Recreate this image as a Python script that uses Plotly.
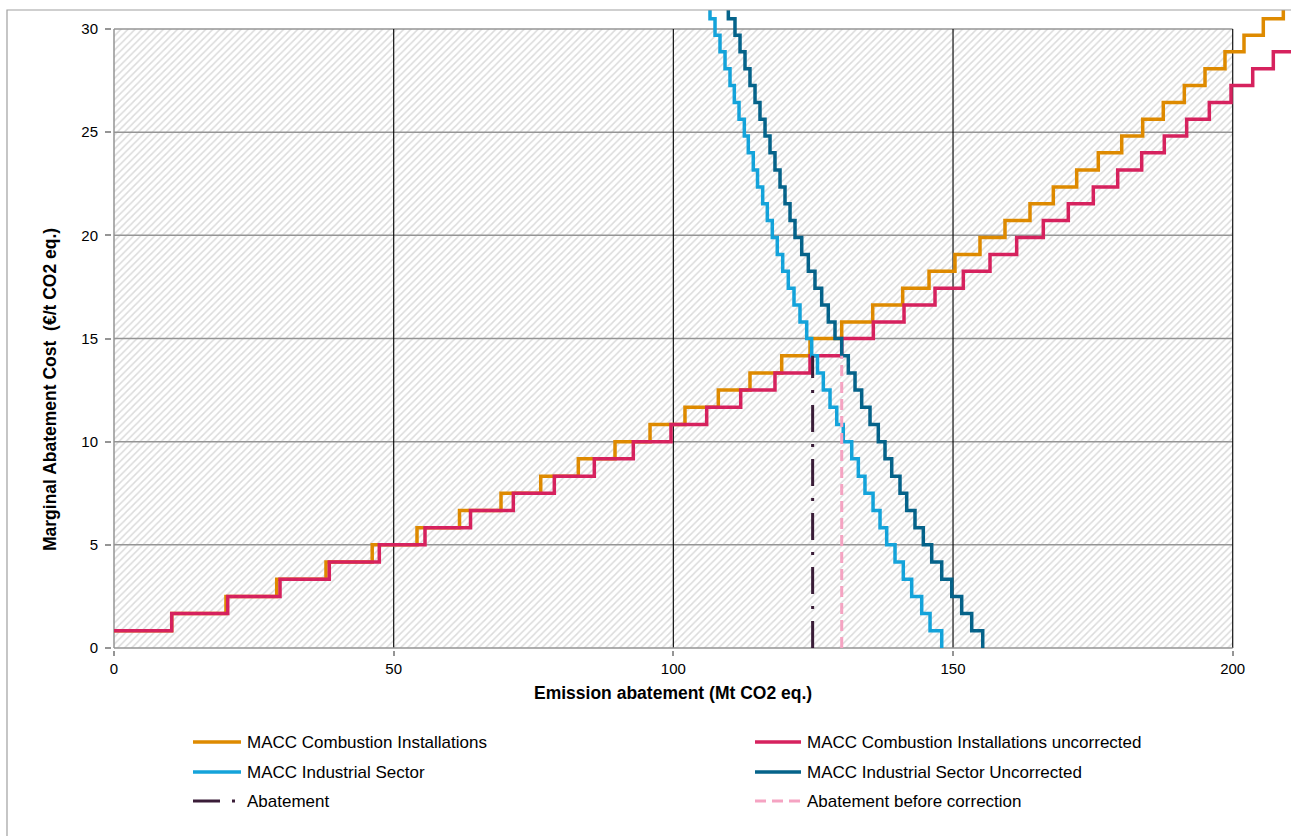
import plotly.graph_objects as go

# ---------------- data ----------------
# shared marginal-cost step levels (EUR/t CO2 eq.), low -> high
cost_levels = [0.83, 1.67, 2.50, 3.33, 4.17, 5.00, 5.83, 6.67, 7.50, 8.33,
               9.17, 10.00, 10.83, 11.67, 12.50, 13.33, 14.17, 15.00, 15.80, 16.62,
               17.44, 18.26, 19.07, 19.90, 20.72, 21.53, 22.34, 23.17, 24.00, 24.82,
               25.63, 26.44, 27.26, 28.08, 28.90, 29.70, 30.50, 31.30]

# MACC Combustion Installations: abatement (Mt) where the curve steps up
comb_x = [0, 10.32, 20.02, 29.09, 37.90, 46.16, 54.17, 61.77, 69.19, 76.29,
          83.01, 89.57, 95.83, 102.08, 108.04, 113.70, 119.37, 124.43, 130.10, 135.64,
          141.00, 145.71, 150.35, 154.82, 159.29, 163.76, 167.93, 172.11, 175.97, 180.16,
          183.91, 187.59, 191.35, 195.05, 198.62, 202.02, 205.47, 209.05, 212.0]
comb_y = cost_levels[:38] + [31.30]

# MACC Combustion Installations uncorrected
comb_unc_x = [0, 10.32, 20.33, 29.68, 38.49, 47.43, 55.60, 63.74, 71.39, 78.72,
              85.87, 92.84, 99.58, 105.96, 112.04, 118.17, 124.43, 130.10, 135.75, 141.24,
              146.78, 151.84, 156.61, 161.38, 166.14, 170.61, 175.08, 179.44, 183.73, 187.77,
              191.77, 195.82, 199.70, 203.58, 207.26, 212.0]
comb_unc_y = cost_levels[:35] + [28.90]

# MACC Industrial Sector (descending): abatement where the curve steps down
ind_x = [105.5, 106.55, 107.45, 108.34, 109.24, 110.13, 110.90, 111.74, 112.69, 113.40,
         114.29, 115.05, 115.97, 116.80, 117.69, 118.58, 119.55, 120.55, 121.57, 122.64,
         123.84, 124.73, 125.77, 126.81, 128.01, 129.21, 130.38, 131.89, 133.07, 134.26,
         135.70, 136.95, 138.14, 139.63, 141.11, 142.61, 144.40, 145.89, 147.98]
ind_y = list(reversed(cost_levels)) + [0]

# MACC Industrial Sector Uncorrected
ind_unc_x = [108.5, 109.83, 111.02, 111.92, 112.81, 113.70, 114.60, 115.49, 116.39, 117.28,
             118.17, 119.07, 119.96, 120.86, 121.75, 122.95, 124.13, 125.32, 126.52, 127.70,
             128.90, 130.10, 131.28, 132.48, 133.67, 135.16, 136.64, 137.84, 139.04, 140.52,
             141.72, 143.20, 144.69, 146.19, 147.98, 149.77, 151.55, 153.34, 155.31]
ind_unc_y = list(reversed(cost_levels)) + [0]

# vertical abatement markers
abatement_x = [124.9, 124.9]
abatement_y = [0, 14.17]
abatement_before_x = [130.1, 130.1]
abatement_before_y = [0, 14.17]

x_ticks = [0, 50, 100, 150, 200]
y_ticks = [0, 5, 10, 15, 20, 25, 30]
x_max, y_max = 200, 30

# ---------------- geometry ----------------
W, H = 1291, 836
L_PX, R_PX, T_PX, B_PX = 112, 1291, 10, 650
X0_PX, X_SCALE = 114, 5.5935
Y0_PX, Y_SCALE = 648, 20.633
x_range = [(L_PX - X0_PX) / X_SCALE, (R_PX - X0_PX) / X_SCALE]
y_range = [(Y0_PX - B_PX) / Y_SCALE, (Y0_PX - T_PX) / Y_SCALE]


def paper_x(px):
    return (px - L_PX) / (R_PX - L_PX)


def paper_y(py):
    return (B_PX - py) / (B_PX - T_PX)


FONT = "Liberation Sans, Arial, sans-serif"
C_ORANGE = "#DE8A00"
C_CRIMSON = "#D6225E"
C_LBLUE = "#14A3DA"
C_DBLUE = "#05638A"
C_PURPLE = "#3A1D38"
C_PINK = "#F5A3C2"
C_GRID = "#959595"
DASH_ABAT = "27px,12px,3px,12px"
DASH_BEFORE = "11px,6px"

fig = go.Figure()

# hatched plot area
fig.add_trace(go.Scatter(
    x=[0, x_max, x_max, 0, 0], y=[0, 0, y_max, y_max, 0],
    mode="lines", line=dict(width=0), fill="toself", fillcolor="white",
    fillpattern=dict(shape="/", fgcolor="#B8B8B8", bgcolor="white", size=5, solidity=0.3),
    showlegend=False, hoverinfo="skip"))

# gridlines
for yv in y_ticks[1:]:
    fig.add_trace(go.Scatter(x=[0, x_max], y=[yv, yv], mode="lines",
                             line=dict(color=C_GRID, width=1.5),
                             showlegend=False, hoverinfo="skip"))
for xv in x_ticks[1:]:
    fig.add_trace(go.Scatter(x=[xv, xv], y=[0, y_max], mode="lines",
                             line=dict(color="#111111", width=1.2),
                             showlegend=False, hoverinfo="skip"))
# axis lines
fig.add_trace(go.Scatter(x=[0, 0], y=[0, y_max], mode="lines",
                         line=dict(color=C_GRID, width=1.5), showlegend=False, hoverinfo="skip"))
fig.add_trace(go.Scatter(x=[0, x_max], y=[0, 0], mode="lines",
                         line=dict(color=C_GRID, width=1.5), showlegend=False, hoverinfo="skip"))

LW = 3.5
series = [
    ("MACC Combustion Installations", comb_x, comb_y, C_ORANGE, "solid", "hv", LW),
    ("MACC Combustion Installations uncorrected", comb_unc_x, comb_unc_y, C_CRIMSON, "solid", "hv", LW),
    ("MACC Industrial Sector", ind_x, ind_y, C_LBLUE, "solid", "hv", LW),
    ("MACC Industrial Sector Uncorrected", ind_unc_x, ind_unc_y, C_DBLUE, "solid", "hv", LW),
    ("Abatement", abatement_x, abatement_y, C_PURPLE, DASH_ABAT, "linear", 3),
    ("Abatement before correction", abatement_before_x, abatement_before_y, C_PINK, DASH_BEFORE, "linear", 3),
]
for name, xs, ys, col, dash, shape, w in series:
    fig.add_trace(go.Scatter(x=xs, y=ys, mode="lines", line_shape=shape,
                             line=dict(color=col, width=w, dash=dash),
                             name=name, showlegend=False))

# legend (two columns, three rows) drawn below the plot
legend_cols = [(193, 241, 245), (755, 801, 805)]   # line start, line end, text x (px)
legend_rows = [742, 772, 801]                       # row centre (px)
for i, (name, xs, ys, col, dash, shape, w) in enumerate(series):
    c0, c1, tx = legend_cols[i % 2]
    ry = legend_rows[i // 2]
    fig.add_shape(type="line", xref="paper", yref="paper",
                  x0=paper_x(c0), x1=paper_x(c1), y0=paper_y(ry), y1=paper_y(ry),
                  line=dict(color=col, width=w, dash=dash))
    fig.add_annotation(x=paper_x(tx), y=paper_y(ry), xref="paper", yref="paper",
                       text=name, showarrow=False, xanchor="left", yanchor="middle",
                       font=dict(family=FONT, size=17, color="black"))

# outer chart border
fig.add_shape(type="rect", xref="paper", yref="paper",
              x0=paper_x(7), x1=paper_x(1300), y0=paper_y(850), y1=paper_y(10),
              line=dict(color="#A0A0A0", width=1.2), fillcolor="rgba(0,0,0,0)", layer="above")

# axis titles
fig.add_annotation(x=100, xref="x", y=paper_y(693), yref="paper",
                   text="<b>Emission abatement (Mt CO2 eq.)</b>", showarrow=False,
                   font=dict(family=FONT, size=17.5, color="black"),
                   xanchor="center", yanchor="middle")
fig.add_annotation(x=paper_x(50), xref="paper", y=paper_y(390), yref="paper",
                   text="<b>Marginal Abatement Cost  (€/t CO2 eq.)</b>", showarrow=False,
                   textangle=-90, font=dict(family=FONT, size=17.5, color="black"),
                   xanchor="center", yanchor="middle")

fig.update_layout(
    width=W, height=H,
    margin=dict(l=L_PX, r=W - R_PX, t=T_PX, b=H - B_PX, autoexpand=False),
    paper_bgcolor="white", plot_bgcolor="white",
    font=dict(family=FONT, size=15, color="black"),
    xaxis=dict(range=x_range, tickvals=x_ticks, ticktext=[str(v) for v in x_ticks],
               showgrid=False, zeroline=False, showline=False,
               ticks="outside", ticklen=5, tickcolor=C_GRID, tickwidth=1.5,
               tickfont=dict(family=FONT, size=15, color="black")),
    yaxis=dict(range=y_range, tickvals=y_ticks, ticktext=[str(v) for v in y_ticks],
               showgrid=False, zeroline=False, showline=False,
               ticks="outside", ticklen=6, tickcolor=C_GRID, tickwidth=1.5,
               ticklabelstandoff=4,
               tickfont=dict(family=FONT, size=15, color="black")),
    showlegend=False,
)

fig.write_html("out.html")
